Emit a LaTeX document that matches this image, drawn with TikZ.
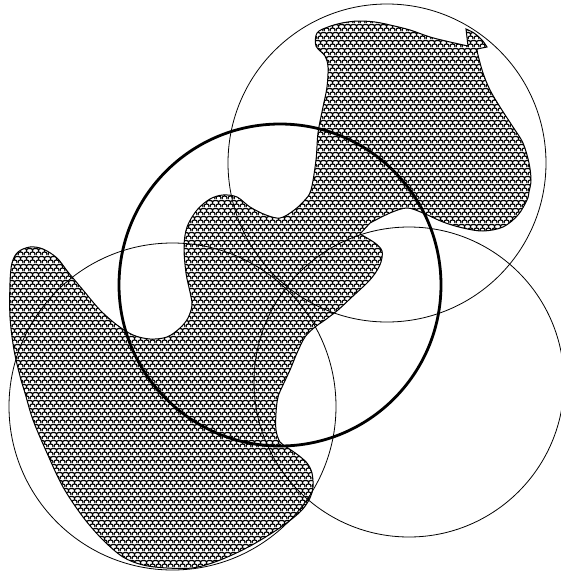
\documentclass[tikz,border=0pt]{standalone}
\usepackage{tikz}
\usetikzlibrary{patterns}
\pgfdeclarepatternformonly{scallops}{\pgfqpoint{0pt}{0pt}}{\pgfqpoint{6pt}{8pt}}{\pgfqpoint{6pt}{8pt}}{
  \pgfsetlinewidth{1.35pt}
  \pgfpathmoveto{\pgfqpoint{0pt}{0pt}}
  \pgfpathcurveto{\pgfqpoint{0pt}{3pt}}{\pgfqpoint{6pt}{3pt}}{\pgfqpoint{6pt}{0pt}}
  \pgfpathmoveto{\pgfqpoint{-3pt}{4pt}}
  \pgfpathcurveto{\pgfqpoint{-3pt}{7pt}}{\pgfqpoint{3pt}{7pt}}{\pgfqpoint{3pt}{4pt}}
  \pgfpathcurveto{\pgfqpoint{3pt}{7pt}}{\pgfqpoint{9pt}{7pt}}{\pgfqpoint{9pt}{4pt}}
  \pgfpathmoveto{\pgfqpoint{0pt}{8pt}}
  \pgfpathcurveto{\pgfqpoint{0pt}{11pt}}{\pgfqpoint{6pt}{11pt}}{\pgfqpoint{6pt}{8pt}}
  \pgfusepath{stroke}
}
\begin{document}
\begin{tikzpicture}[x=1pt,y=-1pt,
  region/.style={draw,line width=1pt,pattern=scallops},
  thinring/.style={line width=0.8pt},
  mainring/.style={line width=2.8pt}]
  \useasboundingbox[fill=white] (0,0) rectangle (561,574);
  % hatched region
  \path[region] (360,234)
    -- plot[smooth,tension=0.55] coordinates {(360,234) (375,243) (382,251) (381,262) (376,272)
      (368,282) (352,297) (338,310) (325,320) (315,327) (305,337) (297,353) (290,370) (283,385)
      (278,397) (276,413) (276,430) (280,442) (288,448) (298,455) (307,463) (312,473) (313,487)
      (310,498) (302,510) (288,522) (272,533) (252,545) (232,555) (212,563) (192,568) (167,568)
      (143,565) (123,557) (103,540) (83,517) (63,487) (47,453) (33,420) (25,393) (21,380)
      (14,350) (10,317) (10,283) (12,263) (18,252) (30,247) (43,249) (57,258) (68,272) (83,290)
      (100,310) (117,325) (133,335) (150,339) (167,337) (180,328) (188,318) (192,305) (190,292)
      (186,273) (184,247) (187,227) (197,210) (210,199) (223,195) (237,197) (250,207) (266,215)
      (280,218) (293,211) (304,201) (311,190) (316,160) (318,133) (323,107) (327,87) (328,67)
      (325,56) (316,46) (317,33) (328,27) (342,23) (358,21) (375,22) (390,25) (410,30) (430,37)
      (450,42) (468,46)}
    -- (466,29)
    -- plot[smooth,tension=0.55] coordinates {(466,29) (474,33) (482,40) (487,47)}
    -- (477,49)
    -- plot[smooth,tension=0.55] coordinates {(477,49) (478,55) (483,73) (490,90) (500,107)
      (513,127) (523,143) (529,163) (531,180) (529,192) (527,200) (518,215) (503,227) (483,231)
      (463,228) (443,222) (423,213) (407,208) (390,213) (370,223)}
    -- cycle;
  % circles
  \coordinate (hub) at (280,285);
  \foreach \cx/\cy/\r [count=\i] in {387/163/159,172.5/406.5/163.5,409/382/155}{
    \coordinate (disc\i) at (\cx,\cy);
    \draw[thinring] (disc\i) circle[radius=\r];
  }
  \draw[mainring] (hub) circle[radius=161];
\end{tikzpicture}
\end{document}
